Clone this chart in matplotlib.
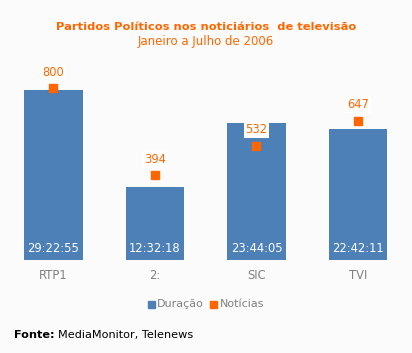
import matplotlib
matplotlib.use("Agg")
import matplotlib.pyplot as plt
from matplotlib.patches import Rectangle

categories = ["RTP1", "2:", "SIC", "TVI"]
duracao_labels = ["29:22:55", "12:32:18", "23:44:05", "22:42:11"]
noticias = [800, 394, 532, 647]

def to_hours(s):
    h, m, sec = (int(p) for p in s.split(":"))
    return h + m / 60 + sec / 3600

duracao = [to_hours(s) for s in duracao_labels]

BG = "#fbfbfb"
BLUE = "#4d80b6"
ORANGE = "#ff6600"
GRAY = "#808080"
FS = 8.3

W, H = 412, 353
fig = plt.figure(figsize=(W / 100, H / 100), dpi=100, facecolor=BG)

def px(x0, y0, x1, y1):
    return [x0 / W, 1 - y1 / H, (x1 - x0) / W, (y1 - y0) / H]

ax = fig.add_axes(px(2.75, 60, 408.75, 260))
ax.set_facecolor("none")
x = list(range(len(categories)))
ax.bar(x, duracao, width=0.58, color=BLUE, zorder=1)
ax.set_xlim(-0.5, 3.5)
ax.set_ylim(0, max(duracao) * 200 / 170)
for s in ax.spines.values():
    s.set_visible(False)
ax.set_yticks([])
ax.set_xticks(x)
ax.set_xticklabels(categories, color=GRAY, fontsize=FS)
ax.tick_params(axis="x", length=0, pad=6.5)
for xi, lab in zip(x, duracao_labels):
    ax.annotate(lab, (xi, 0), xytext=(0, 8.6), textcoords="offset points",
                ha="center", va="center", color="white", fontsize=FS, zorder=3)

ax2 = ax.twinx()
ax2.set_ylim(0, max(noticias) * 200 / 172)
ax2.set_yticks([])
for s in ax2.spines.values():
    s.set_visible(False)
ax2.plot(x, noticias, linestyle="none", marker="s", markersize=5.2,
         color=ORANGE, zorder=4)
for xi, v in zip(x, noticias):
    ax2.annotate(str(v), (xi, v), xytext=(0, 11.5), textcoords="offset points",
                 ha="center", va="center", color=ORANGE, fontsize=FS, zorder=5,
                 bbox=dict(boxstyle="square,pad=0.15", fc="white", ec="none"))

fig.text(206 / W, 1 - 27 / H, "Partidos Políticos nos noticiários  de televisão",
         ha="center", va="center", color=ORANGE, fontsize=8.25, fontweight="bold")
fig.text(206 / W, 1 - 42 / H, "Janeiro a Julho de 2006",
         ha="center", va="center", color=ORANGE, fontsize=8.5)

# legend
fig.patches.append(Rectangle((148 / W, 1 - 308 / H), 7 / W, 7 / H,
                             transform=fig.transFigure, color=BLUE))
fig.text(157 / W, 1 - 304 / H, "Duração", ha="left", va="center",
         color=GRAY, fontsize=8)
fig.patches.append(Rectangle((210 / W, 1 - 308 / H), 7 / W, 7 / H,
                             transform=fig.transFigure, color=ORANGE))
fig.text(220 / W, 1 - 304 / H, "Notícias", ha="left", va="center",
         color=GRAY, fontsize=8)

t = fig.text(14 / W, 1 - 335 / H, "Fonte:", ha="left", va="center",
             color="black", fontsize=8.1, fontweight="bold")
fig.canvas.draw()
bb = t.get_window_extent()
fig.text((bb.x1 + 3) / W, 1 - 335 / H, "MediaMonitor, Telenews", ha="left",
         va="center", color="black", fontsize=8.1)

fig.savefig("out.png", dpi=100, facecolor=BG)
